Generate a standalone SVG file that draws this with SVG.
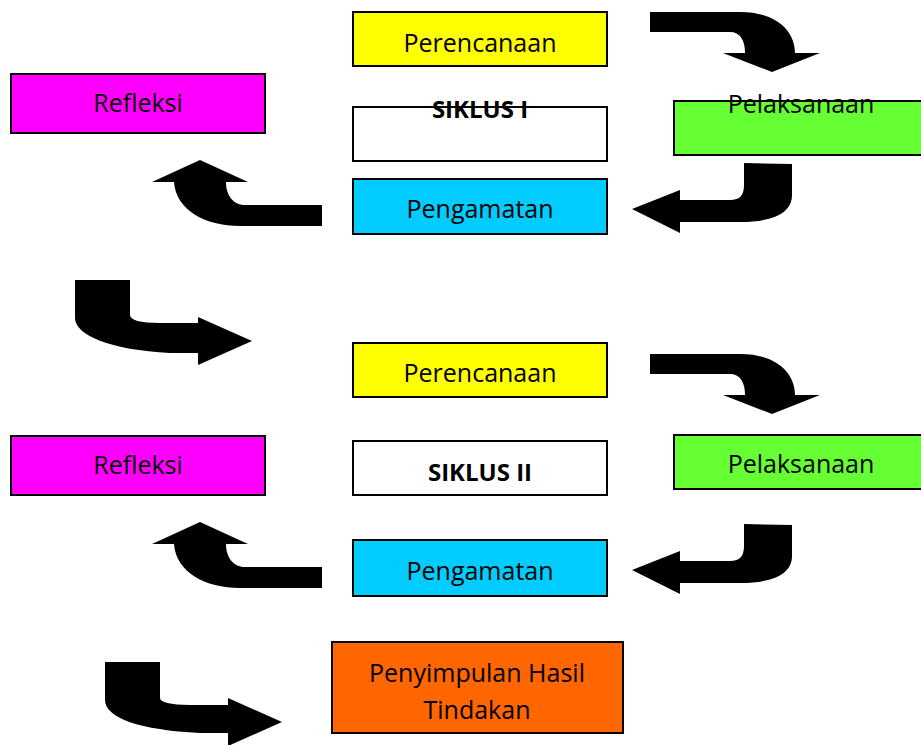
<svg xmlns="http://www.w3.org/2000/svg" xmlns:xlink="http://www.w3.org/1999/xlink" width="921" height="745" viewBox="0 0 921 745">
<style>
.box{stroke:#000;stroke-width:2}
.t{font-family:"Open Sans","Noto Sans",sans-serif;font-size:25px;fill:#000;text-anchor:middle}
.b{font-weight:bold;font-size:24px}
.arr{fill:#000}
</style>
<defs>
<path id="a1" d="M650,12 L740,12 C775,12 795,30 795,53 L820,53 L772,72 L723,53 L745,53 C745,40 740,32 730,32 L650,32 Z"/>
<path id="a2" d="M744,163 L792,164 L792,195 C792,212 775,222 740,222 L680,222 L680,233 L632,209 L680,190 L680,200 L730,200 C740,200 744,195 744,185 Z"/>
<path id="a3" d="M322,205 L245,205 C233,205 226,195 226,182 L248,182 L200,160 L152,182 L174,182 C176,210 205,226 240,226 L322,226 Z"/>
</defs>
<rect width="921" height="745" fill="#fff"/>
<g id="connectors" class="arr">
<use xlink:href="#a1"/>
<use xlink:href="#a2"/>
<use xlink:href="#a3"/>
<path d="M75,280 L130,280 L130,315 C130,320 140,323 160,323 L198,323 L198,317 L252,341 L198,365 L198,353 L170,353 C110,350 75,335 75,318 Z"/>
<use xlink:href="#a1" transform="translate(0,342)"/>
<use xlink:href="#a2" transform="translate(0,361)"/>
<use xlink:href="#a3" transform="translate(0,362)"/>
<path d="M105,662 L160,662 L160,698 C160,702 170,705 190,705 L228,705 L228,698 L282,722 L228,746 L228,733 L200,733 C140,730 105,718 105,700 Z"/>
</g>
<g id="perencanaan1"><rect class="box" x="353" y="12" width="254" height="54" fill="#FFFF00"/><text class="t" x="480" y="52">Perencanaan</text></g>
<g id="siklus1"><rect class="box" x="353" y="107" width="254" height="54" fill="#fff"/><text class="t b" x="480" y="118">SIKLUS I</text></g>
<g id="pelaksanaan1"><rect class="box" x="674" y="101" width="260" height="54" fill="#66FF33"/><text class="t" x="801" y="113">Pelaksanaan</text></g>
<g id="refleksi1"><rect class="box" x="11" y="74" width="254" height="59" fill="#FF00FF"/><text class="t" x="138" y="112">Refleksi</text></g>
<g id="pengamatan1"><rect class="box" x="353" y="179" width="254" height="55" fill="#00CCFF"/><text class="t" x="480" y="218">Pengamatan</text></g>
<g id="perencanaan2"><rect class="box" x="353" y="343" width="254" height="54" fill="#FFFF00"/><text class="t" x="480" y="382">Perencanaan</text></g>
<g id="refleksi2"><rect class="box" x="11" y="436" width="254" height="59" fill="#FF00FF"/><text class="t" x="138" y="474">Refleksi</text></g>
<g id="siklus2"><rect class="box" x="353" y="441" width="254" height="54" fill="#fff"/><text class="t b" x="480" y="481">SIKLUS II</text></g>
<g id="pelaksanaan2"><rect class="box" x="674" y="435" width="260" height="54" fill="#66FF33"/><text class="t" x="801" y="473">Pelaksanaan</text></g>
<g id="pengamatan2"><rect class="box" x="353" y="540" width="254" height="56" fill="#00CCFF"/><text class="t" x="480" y="580">Pengamatan</text></g>
<g id="penyimpulan"><rect class="box" x="332" y="642" width="291" height="91" fill="#FF6600"/><text class="t" x="477" y="682">Penyimpulan Hasil</text><text class="t" x="477" y="719">Tindakan</text></g>
</svg>
